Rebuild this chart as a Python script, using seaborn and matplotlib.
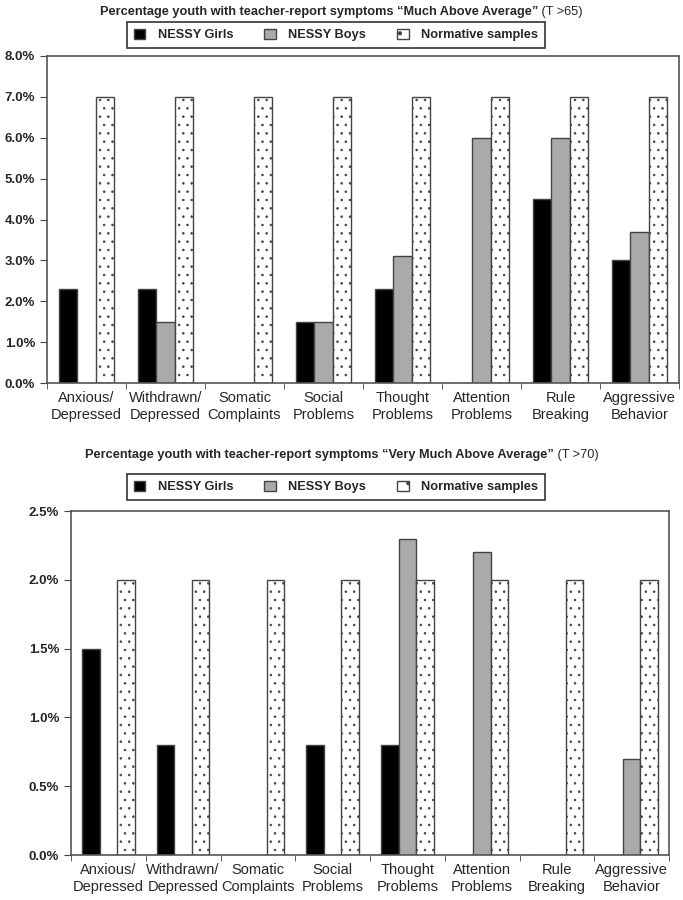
import matplotlib
matplotlib.use("Agg")
import matplotlib.pyplot as plt
from matplotlib.patches import Patch
from matplotlib.ticker import FixedLocator
import seaborn as sns
import pandas as pd

categories = ["Anxious/\nDepressed", "Withdrawn/\nDepressed", "Somatic\nComplaints",
              "Social\nProblems", "Thought\nProblems", "Attention\nProblems",
              "Rule\nBreaking", "Aggressive\nBehavior"]
groups = ["NESSY Girls", "NESSY Boys", "Normative samples"]

# T > 65
girls_65 = [2.3, 2.3, 0.0, 1.5, 2.3, 0.0, 4.5, 3.0]
boys_65 = [0.0, 1.5, 0.0, 1.5, 3.1, 6.0, 6.0, 3.7]
norm_65 = [7.0, 7.0, 7.0, 7.0, 7.0, 7.0, 7.0, 7.0]

# T > 70
girls_70 = [1.5, 0.8, 0.0, 0.8, 0.8, 0.0, 0.0, 0.0]
boys_70 = [0.0, 0.0, 0.0, 0.0, 2.3, 2.2, 0.0, 0.7]
norm_70 = [2.0, 2.0, 2.0, 2.0, 2.0, 2.0, 2.0, 2.0]

title_65 = "Percentage youth with teacher-report symptoms \u201cMuch Above Average\u201d"
title_70 = "Percentage youth with teacher-report symptoms \u201cVery Much Above Average\u201d"
suffix_65 = " (T >65)"
suffix_70 = " (T >70)"

sns.set_style("white")
plt.rcParams["font.family"] = ["Liberation Sans", "DejaVu Sans"]
plt.rcParams["hatch.linewidth"] = 0.6

colors = ["black", "#aaaaaa", "white"]
edge = "#444444"


def long_df(g, b, n):
    rows = []
    for vals, grp in zip([g, b, n], groups):
        for c, v in zip(categories, vals):
            rows.append({"cat": c, "grp": grp, "val": v})
    return pd.DataFrame(rows)


def draw(ax, df, ymax, step):
    sns.barplot(data=df, x="cat", y="val", hue="grp", hue_order=groups,
                order=categories, palette=colors, width=0.7, ax=ax,
                edgecolor=edge, linewidth=1.0, legend=False)
    for p in ax.containers[2].patches:
        p.set_hatch("..")
    ax.set_xlim(-0.5, len(categories) - 0.5)
    ax.set_ylim(0, ymax)
    yt = [i * step for i in range(int(round(ymax / step)) + 1)]
    ax.set_yticks(yt)
    ax.set_yticklabels([f"{v:.1f}%" for v in yt], fontweight="bold", fontsize=9.5)
    ax.set_xlabel("")
    ax.set_ylabel("")
    ax.tick_params(axis="x", which="major", length=0, labelsize=10.5, pad=6)
    ax.xaxis.set_minor_locator(FixedLocator([i + 0.5 for i in range(-1, len(categories))]))
    ax.tick_params(axis="x", which="minor", length=4, color=edge, direction="out", bottom=True)
    ax.tick_params(axis="y", length=5, color=edge, direction="out", left=True)
    for s in ax.spines.values():
        s.set_color("#555555")
        s.set_linewidth(1.2)


def heading(fig, y, text, suffix):
    fig.canvas.draw()
    r = fig.canvas.get_renderer()
    t1 = fig.text(0.5, y, text, ha="left", va="center", fontsize=9.2, fontweight="bold")
    t2 = fig.text(0.5, y, suffix, ha="left", va="center", fontsize=9.2)
    w1 = t1.get_window_extent(r).width
    w2 = t2.get_window_extent(r).width
    W = fig.bbox.width
    x0 = (W - w1 - w2) / 2 / W
    t1.set_x(x0)
    t2.set_x(x0 + w1 / W)


def legend(fig, y):
    handles = [Patch(facecolor=c, edgecolor=edge, hatch=h)
               for c, h in zip(colors, ["", "", "."])]
    lg = fig.legend(handles, groups, loc="center", bbox_to_anchor=(0.492, y),
                    ncol=3, frameon=True, fancybox=False, edgecolor="black",
                    prop={"weight": "bold", "size": 9.2}, handlelength=0.9,
                    handleheight=0.9, handletextpad=1.0, columnspacing=2.4,
                    borderpad=0.5, borderaxespad=0)
    lg.get_frame().set_linewidth(1.2)


fig = plt.figure(figsize=(6.83, 9.0), dpi=100)
ax1 = fig.add_axes([47 / 683, 1 - 383 / 900, (679 - 47) / 683, (383 - 56) / 900])
ax2 = fig.add_axes([71 / 683, 1 - 855 / 900, (669 - 71) / 683, (855 - 511) / 900])

draw(ax1, long_df(girls_65, boys_65, norm_65), 8.0, 1.0)
draw(ax2, long_df(girls_70, boys_70, norm_70), 2.5, 0.5)

heading(fig, 1 - 12 / 900, title_65, suffix_65)
heading(fig, 1 - 455 / 900, title_70, suffix_70)
legend(fig, 1 - 35 / 900)
legend(fig, 1 - 487 / 900)

fig.savefig("out.png", dpi=100)
